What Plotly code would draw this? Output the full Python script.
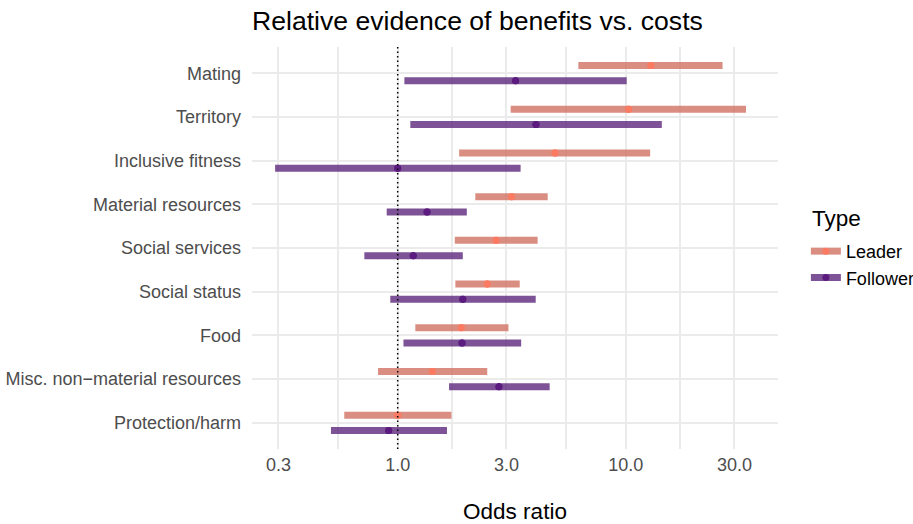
import plotly.graph_objects as go

# Odds ratios (point estimate and interval) per benefit category
categories = ["Mating", "Territory", "Inclusive fitness", "Material resources",
              "Social services", "Social status", "Food",
              "Misc. non\u2212material resources", "Protection/harm"]

leader_or = [12.9, 10.3, 4.9, 3.16, 2.70, 2.47, 1.90, 1.42, 1.0]
leader_lo = [6.2, 3.13, 1.86, 2.19, 1.78, 1.79, 1.195, 0.82, 0.583]
leader_hi = [26.6, 33.7, 12.8, 4.55, 4.11, 3.43, 3.06, 2.47, 1.72]

follower_or = [3.29, 4.04, 1.0, 1.345, 1.17, 1.93, 1.915, 2.78, 0.913]
follower_lo = [1.07, 1.136, 0.29, 0.895, 0.714, 0.928, 1.06, 1.68, 0.51]
follower_hi = [10.1, 14.4, 3.46, 2.01, 1.93, 4.03, 3.48, 4.64, 1.645]

x_ticks = [0.3, 1, 3, 10, 30]
x_ticktext = ["0.3", "1.0", "3.0", "10.0", "30.0"]

FONT = "Liberation Sans, Arial, Helvetica, sans-serif"
n = len(categories)
ypos = [n - i for i in range(n)]  # top category gets the highest position
dodge = 0.175


def interval_trace(name, est, lo, hi, offset, bar_color, pt_color):
    xs, ys, cols = [], [], []
    clear = "rgba(0,0,0,0)"
    for e, l, h, y in zip(est, lo, hi, ypos):
        yy = y + offset
        # two half-segments meeting at the estimate, the estimate carries the dot
        xs += [e, l, None, e, h, None]
        ys += [yy, yy, None, yy, yy, None]
        cols += [pt_color, clear, clear, pt_color, clear, clear]
    return go.Scatter(
        x=xs, y=ys, name=name, mode="lines+markers",
        line=dict(color=bar_color, width=7),
        marker=dict(color=cols, size=7, line=dict(width=0)),
        hoverinfo="skip",
    )


fig = go.Figure()
fig.add_trace(interval_trace("Leader", leader_or, leader_lo, leader_hi, dodge,
                             "rgba(209,114,99,0.8)", "#FA7A62"))
fig.add_trace(interval_trace("Follower", follower_or, follower_lo, follower_hi, -dodge,
                             "rgba(92,39,124,0.8)", "#5C1B7F"))

# reference line at odds ratio 1
fig.add_trace(go.Scatter(
    x=[1, 1], y=[0.4, n + 0.6], mode="lines", showlegend=False, hoverinfo="skip",
    line=dict(color="black", width=1.5, dash="1.5px,3px"),
))

minor_vals = [0.3 ** 0.5, 3 ** 0.5, 30 ** 0.5, 300 ** 0.5]

fig.update_layout(
    width=913, height=524,
    margin=dict(l=252, r=135, t=47, b=75, autoexpand=False),
    paper_bgcolor="white", plot_bgcolor="white",
    font=dict(family=FONT, color="#4D4D4D", size=18),
    title=dict(text="Relative evidence of benefits vs. costs",
               font=dict(size=26.6, color="black", family=FONT),
               x=0, xref="paper", xanchor="left",
               y=0.978, yref="container", yanchor="top"),
    xaxis=dict(
        type="log", range=[-0.639, 1.668],
        tickvals=x_ticks, ticktext=x_ticktext,
        showgrid=True, gridcolor="#EBEBEB", gridwidth=2,
        zeroline=False, showline=False, ticks="",
        ticklabelstandoff=3,
        tickfont=dict(size=18, color="#4D4D4D"),
        minor=dict(tickvals=minor_vals, showgrid=True, gridcolor="#EBEBEB",
                   gridwidth=2, ticks=""),
        title=dict(text="Odds ratio", font=dict(size=22.5, color="black"), standoff=39),
    ),
    yaxis=dict(
        range=[0.4, n + 0.6], tickvals=ypos, ticktext=categories,
        showgrid=True, gridcolor="#EBEBEB", gridwidth=2,
        zeroline=False, showline=False, ticks="",
        ticklabelstandoff=10,
        tickfont=dict(size=18, color="#4D4D4D"),
    ),
    legend=dict(
        font=dict(size=18, color="black"),
        x=1.053, xanchor="left", y=0.5375, yanchor="top",
        bgcolor="rgba(0,0,0,0)", borderwidth=0,
    ),
    annotations=[dict(
        text="Type", x=1.061, y=0.5746, xref="paper", yref="paper",
        xanchor="left", yanchor="middle", showarrow=False,
        font=dict(size=22.5, color="black", family=FONT),
    )],
    showlegend=True,
)

fig.write_html("out.html")
